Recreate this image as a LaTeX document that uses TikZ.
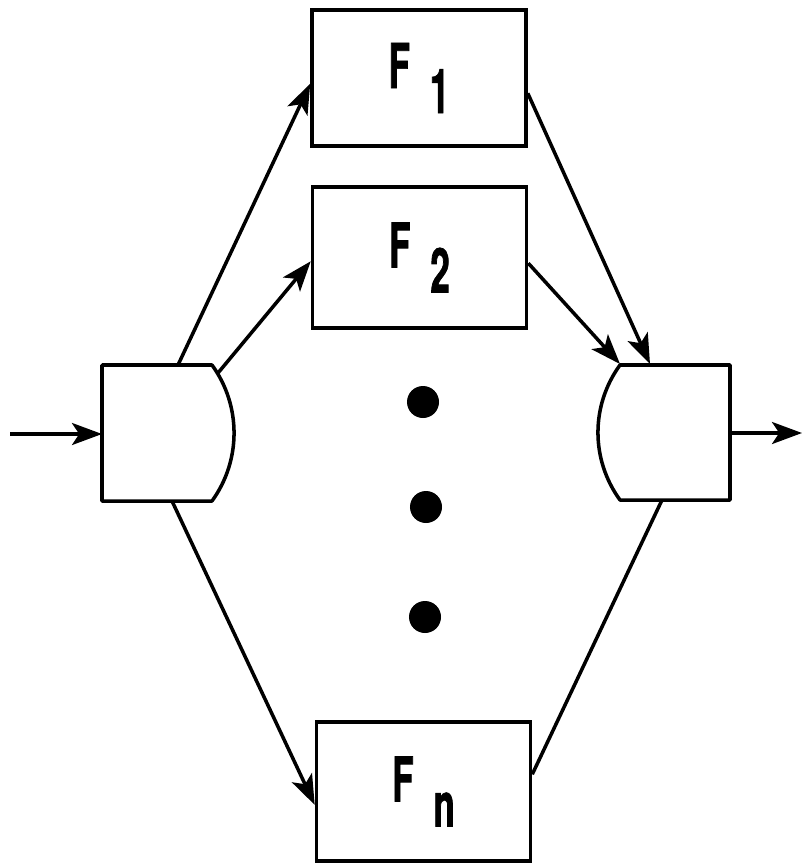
\documentclass[tikz,border=0pt]{standalone}
\usepackage{fontspec}
\usepackage{tikz}
\usetikzlibrary{arrows.meta}
\newfontfamily\boxfont[FakeStretch=0.56,FakeBold=1.2]{TeX Gyre Heros}
\newcommand{\fname}[1] {F\hspace{0.5cm}\raisebox{-0.625cm}{#1}}
\tikzset{
  fbox/.style={shape=rectangle,draw=black,line width=2.5pt,minimum width=5.35cm,inner sep=0pt,
               font=\boxfont\bfseries\fontsize{44}{50}\selectfont},
  dot/.style={shape=circle,fill=black,minimum size=0.8cm,inner sep=0pt},
  gate/.style={draw=black,line width=2.5pt,line join=round},
  arrow/.style={-{Stealth[length=0.75cm,width=0.55cm,inset=0.18cm]},line width=2.5pt}
}

\begin{document}
\begin{tikzpicture}[x=0.025cm,y=-0.025cm]
        \useasboundingbox (0,0) rectangle (803,863);

        \node[fbox,minimum height=3.4cm] (f1) at (419,78)     {\fname{1}};
        \node[fbox,minimum height=3.525cm] (f2) at (419.5,257.5)     {\fname{2}};
        \node[fbox,minimum height=3.475cm] (fn) at (423.5,791.5)     {\fname{n}};

        \node[dot] (d1) at (423,402) {};
        \node[dot] (d2) at (426,507) {};
        \node[dot] (d3) at (425,617) {};

        %splitter and combiner
        \draw[gate] (102,365) -- (212,365) .. controls (241.4,405.6) and (241.4,460.4) .. (212,501) -- (102,501) -- cycle;
        \draw[gate] (730,365) -- (620,365) .. controls (590.6,405.6) and (590.6,459.4) .. (620,500) -- (730,500) -- cycle;

        \coordinate (in) at (10,434);
        \coordinate (sin) at (102,434);
        \coordinate (s1) at (178,365);
        \coordinate (s2) at (218,373);
        \coordinate (sn) at (172,501);
        \coordinate (m1) at (650,364);
        \coordinate (m2) at (620,364);
        \coordinate (mn) at (662,500);
        \coordinate (mout) at (730,433);
        \coordinate (out) at (802,433);

        %into the splitter
        \path[arrow] (in) edge (sin);

        %out of the splitter
        \path[arrow] (s1) edge (f1.183);
        \path[arrow] (s2) edge (f2.182);
        \path[arrow] (sn) edge (fn.187);

        %into the combiner
        \path[arrow] (f1.-8) edge (m1);
        \path[arrow] (f2.-3) edge (m2);
        \path[draw,line width=2.5pt] (fn.9) -- (mn);

        %out of the combiner
        \path[arrow] (mout) edge (out);

\end{tikzpicture}
\end{document}
